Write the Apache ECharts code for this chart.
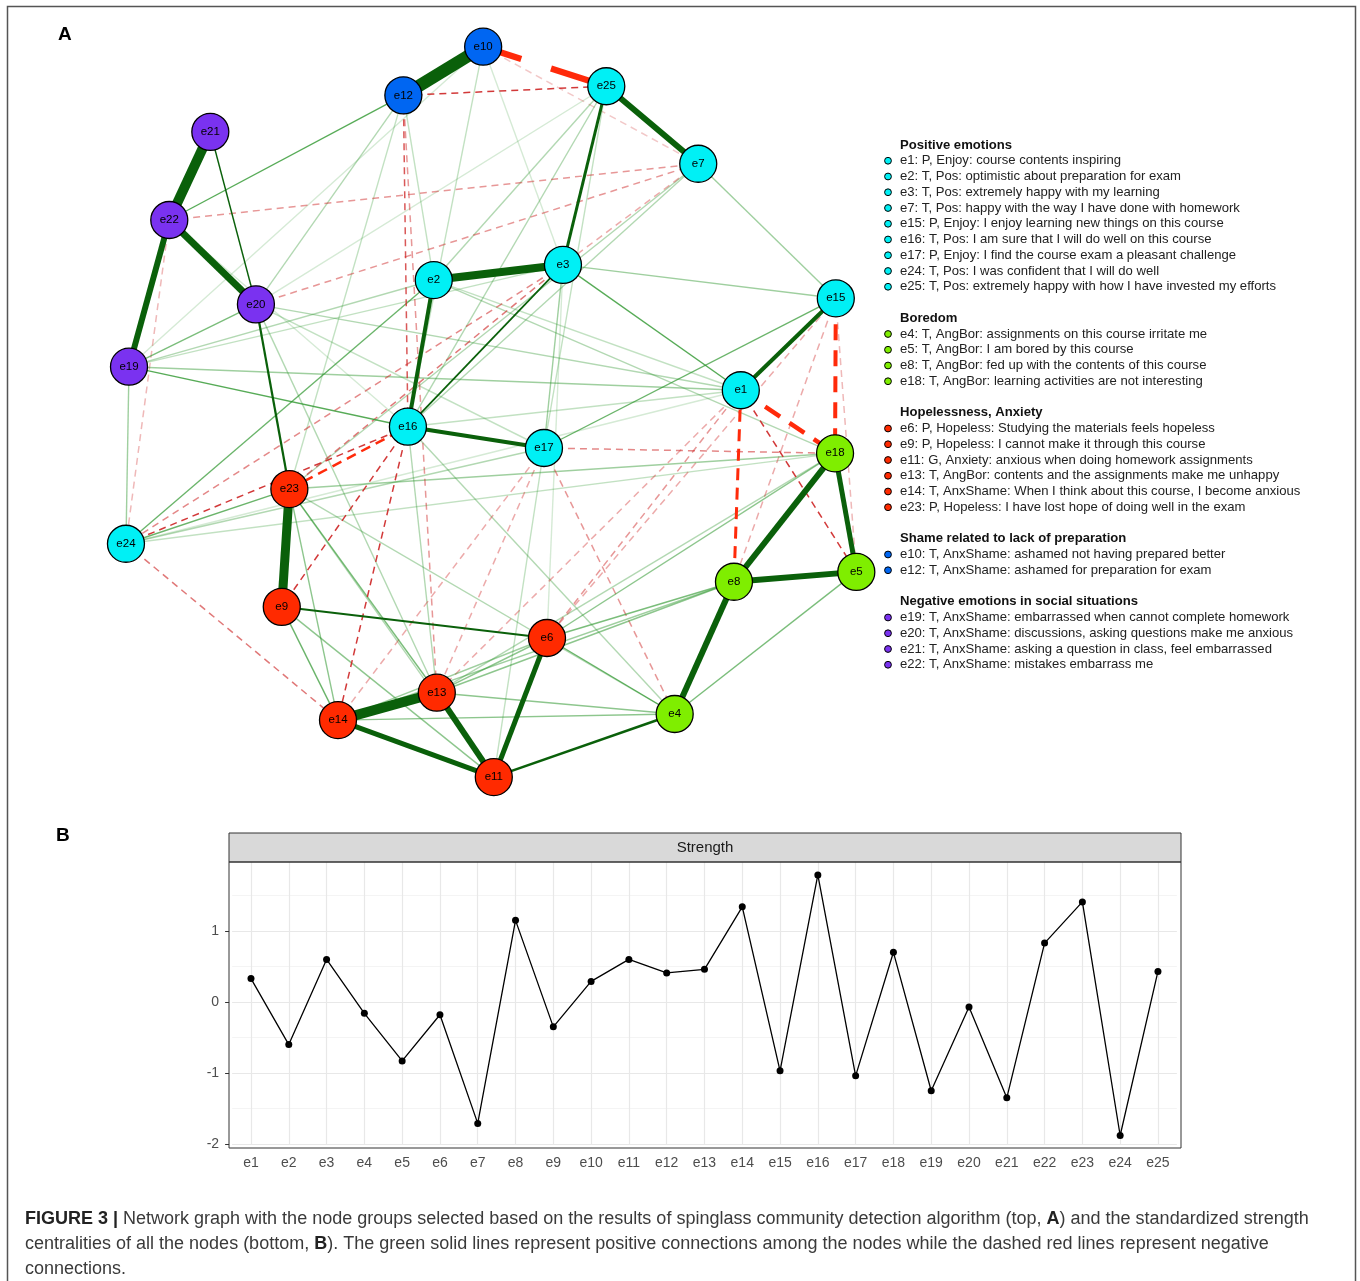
<!DOCTYPE html>
<html>
<head>
<meta charset="utf-8">
<script src="https://cdn.jsdelivr.net/npm/echarts@6/dist/echarts.min.js"></script>
<style>
html,body{margin:0;padding:0;background:#fff;}
#chart{width:1360px;height:1281px;}
</style>
</head>
<body>
<div id="chart"></div>
<script>
// ---------- Panel A: network ----------
const nodeNames = ['e1','e2','e3','e4','e5','e6','e7','e8','e9','e10','e11','e12','e13','e14','e15','e16','e17','e18','e19','e20','e21','e22','e23','e24','e25'];
// layout coordinates (0-100 space)
const nodeX = [83.0,42.6,59.6,74.3,98.2,57.5,77.4,82.1,22.6,49.1,50.5,38.6,43.0,30.0,95.5,39.2,57.1,95.4,2.5,19.2,13.2,7.8,23.6,2.1,65.3];
const nodeY = [52.6,67.1,69.1,10.0,28.7,20.0,82.4,27.4,24.1,97.8,1.7,91.4,12.8,9.2,64.7,47.8,45.0,44.3,55.7,63.9,86.6,75.0,39.6,32.4,92.6];
const nodeGroup = ['pos','pos','pos','bor','bor','hop','pos','bor','hop','sha','hop','sha','hop','hop','pos','pos','pos','bor','soc','soc','soc','soc','hop','pos','pos'];

const groupKeys = ['pos','bor','hop','sha','soc'];
const groupTitles = ['Positive emotions','Boredom','Hopelessness, Anxiety','Shame related to lack of preparation','Negative emotions in social situations'];
const groupColors = ['#00F0F5','#7FEE00','#FF2A00','#0066F2','#7A32F0'];
const legendItems = [
  ['e1: P, Enjoy: course contents inspiring','e2: T, Pos: optimistic about preparation for exam','e3: T, Pos: extremely happy with my learning','e7: T, Pos: happy with the way I have done with homework','e15: P, Enjoy: I enjoy learning new things on this course','e16: T, Pos: I am sure that I will do well on this course','e17: P, Enjoy: I find the course exam a pleasant challenge','e24: T, Pos: I was confident that I will do well','e25: T, Pos: extremely happy with how I have invested my efforts'],
  ['e4: T, AngBor: assignments on this course irritate me','e5: T, AngBor: I am bored by this course','e8: T, AngBor: fed up with the contents of this course','e18: T, AngBor: learning activities are not interesting'],
  ['e6: P, Hopeless: Studying the materials feels hopeless','e9: P, Hopeless: I cannot make it through this course','e11: G, Anxiety: anxious when doing homework assignments','e13: T, AngBor: contents and the assignments make me unhappy','e14: T, AnxShame: When I think about this course, I become anxious','e23: P, Hopeless: I have lost hope of doing well in the exam'],
  ['e10: T, AnxShame: ashamed not having prepared better','e12: T, AnxShame: ashamed for preparation for exam'],
  ['e19: T, AnxShame: embarrassed when cannot complete homework','e20: T, AnxShame: discussions, asking questions make me anxious','e21: T, AnxShame: asking a question in class, feel embarrassed','e22: T, AnxShame: mistakes embarrass me']
];

// edges: [from, to, weight] (negative = dashed red)
const edges = [
  ['e10','e12',0.50],['e21','e22',0.40],['e23','e9',0.36],['e14','e13',0.40],['e2','e3',0.32],
  ['e22','e20',0.28],['e22','e19',0.24],['e25','e7',0.24],['e18','e8',0.24],['e8','e5',0.24],
  ['e8','e4',0.24],['e13','e11',0.24],['e14','e11',0.20],['e6','e11',0.20],['e18','e5',0.20],
  ['e15','e1',0.16],['e16','e17',0.16],['e2','e16',0.16],['e25','e3',0.12],['e4','e11',0.10],
  ['e20','e23',0.09],['e9','e6',0.08],['e16','e3',0.07],['e21','e20',0.06],
  ['e12','e22',0.055],['e3','e1',0.055],['e19','e16',0.055],['e17','e15',0.05],['e24','e2',0.05],
  ['e24','e23',0.05],['e9','e14',0.05],['e6','e4',0.05],['e5','e4',0.045],['e6','e8',0.045],
  ['e13','e8',0.04],['e14','e4',0.04],['e23','e13',0.045],['e20','e19',0.045],['e9','e11',0.04],
  ['e23','e14',0.04],
  ['e19','e24',0.035],['e19','e2',0.03],['e19','e3',0.025],['e19','e1',0.035],['e12','e20',0.03],
  ['e12','e23',0.025],['e10','e16',0.025],['e10','e19',0.02],['e25','e2',0.03],['e25','e16',0.03],
  ['e25','e17',0.025],['e25','e20',0.02],['e7','e15',0.035],['e7','e16',0.03],['e7','e23',0.03],
  ['e3','e15',0.035],['e3','e17',0.035],['e3','e6',0.02],['e2','e18',0.03],['e2','e1',0.025],
  ['e16','e1',0.025],['e16','e4',0.03],['e16','e13',0.03],['e23','e18',0.035],['e23','e4',0.03],
  ['e23','e11',0.03],['e20','e1',0.03],['e20','e13',0.03],['e20','e17',0.025],['e6','e14',0.035],
  ['e6','e13',0.04],['e6','e18',0.04],['e13','e4',0.04],['e14','e8',0.035],['e13','e18',0.03],
  ['e17','e11',0.025],['e24','e17',0.03],['e24','e18',0.025],['e24','e1',0.02],['e22','e16',0.02],
  ['e12','e2',0.025],['e10','e3',0.02],
  ['e10','e25',-0.25],['e1','e18',-0.18],['e15','e18',-0.16],['e1','e8',-0.12],['e23','e16',-0.10],
  ['e12','e25',-0.07],['e1','e5',-0.065],['e16','e9',-0.065],['e16','e14',-0.065],['e24','e16',-0.065],
  ['e12','e16',-0.055],['e3','e23',-0.045],['e3','e24',-0.04],['e24','e14',-0.045],['e12','e13',-0.035],
  ['e22','e7',-0.035],['e20','e7',-0.035],['e17','e18',-0.04],['e17','e4',-0.035],['e1','e6',-0.035],
  ['e1','e13',-0.03],['e15','e6',-0.03],['e15','e8',-0.03],['e15','e5',-0.025],['e17','e13',-0.03],
  ['e17','e14',-0.03],['e22','e24',-0.025],['e10','e7',-0.02],['e7','e3',-0.03]
];

// ---------- Panel B: strength centrality ----------
const strengthCats = nodeNames;
const strengthVals = [0.33,-0.60,0.60,-0.16,-0.83,-0.18,-1.71,1.15,-0.35,0.29,0.60,0.41,0.46,1.34,-0.97,1.79,-1.04,0.70,-1.25,-0.07,-1.35,0.83,1.41,-1.88,0.43];
const yTicks = [-2,-1,0,1];

// ---------- build ----------
const FONT = '"Liberation Sans", Arial, Helvetica, sans-serif';
function colorOf(g){ return groupColors[groupKeys.indexOf(g)]; }

const graphNodes = nodeNames.map((n,i)=>({
  name:n, value:[nodeX[i],nodeY[i]],
  itemStyle:{color:colorOf(nodeGroup[i]), borderColor:'#000', borderWidth:1.3}
}));

function clamp(v,a,b){return Math.max(a,Math.min(b,v));}
const graphLinks = edges.slice().sort((a,b)=>Math.abs(a[2])-Math.abs(b[2])).map(e=>{
  const w=e[2], a=Math.abs(w);
  let color, width, type='solid';
  if (w>0){
    if (a>=0.06){ color='#0A600A'; width=Math.max(1.4,a*25); }
    else { const al=clamp(0.2+(a-0.02)/0.035*0.6,0.15,0.85); color='rgba(45,150,45,'+al.toFixed(2)+')'; width=1.4; }
  } else {
    if (a>=0.09){ color='#FF2A0A'; width=a*25; }
    else { const al=clamp(0.25+(a-0.02)/0.045*0.65,0.2,0.9); color='rgba(205,35,35,'+al.toFixed(2)+')'; width=1.5; }
    type = width>5 ? [width*6.4, width*5] : [Math.max(7,width*4), Math.max(5,width*2.5)];
  }
  return {source:e[0], target:e[1], lineStyle:{color:color, width:width, type:type, opacity:1, curveness:0}};
});

// legend graphics
const legendGraphics = [];
const LX = 900, step = 15.75;
let ly = 145;
groupTitles.forEach((t,gi)=>{
  legendGraphics.push({type:'text', x:LX, y:ly, style:{text:t, font:'bold 13.1px '+FONT, fill:'#111', textVerticalAlign:'middle'}});
  legendItems[gi].forEach(it=>{
    ly += step;
    legendGraphics.push({type:'circle', shape:{cx:888, cy:ly, r:3.4}, style:{fill:groupColors[gi], stroke:'#000', lineWidth:1}});
    legendGraphics.push({type:'text', x:LX, y:ly, style:{text:it, font:'13.1px '+FONT, fill:'#222', textVerticalAlign:'middle'}});
  });
  ly += step*2;
});

const capRich = {
  n:{fontSize:18, fontFamily:FONT, fill:'#3a3a3a', color:'#3a3a3a'},
  b:{fontSize:18, fontFamily:FONT, fontWeight:'bold', fill:'#222', color:'#222'}
};
const captionLines = [
  '{b|FIGURE 3 |}{n| Network graph with the node groups selected based on the results of spinglass community detection algorithm (top, }{b|A}{n|) and the standardized strength}',
  '{n|centralities of all the nodes (bottom, }{b|B}{n|). The green solid lines represent positive connections among the nodes while the dashed red lines represent negative}',
  '{n|connections.}'
];

const chart = echarts.init(document.getElementById('chart'), null, {renderer:'canvas'});
const option = {
  animation:false,
  backgroundColor:'#fff',
  grid:[
    {left:110, top:30, width:760, height:760},
    {left:232.1, top:860, width:944.75, height:284}
  ],
  xAxis:[
    {gridIndex:0, type:'value', min:0, max:100, show:false},
    {gridIndex:1, type:'category', data:strengthCats, boundaryGap:true, offset:4,
     axisLine:{show:false},
     axisTick:{show:true, alignWithLabel:true, length:4, lineStyle:{color:'#333', width:1}},
     axisLabel:{color:'#4D4D4D', fontSize:14, fontFamily:FONT, margin:8, interval:0},
     splitLine:{show:false}}
  ],
  yAxis:[
    {gridIndex:0, type:'value', min:0, max:100, show:false},
    {gridIndex:1, type:'value', min:-2, max:2, interval:1, offset:3,
     axisLine:{show:false},
     axisTick:{show:true, length:4, lineStyle:{color:'#333', width:1}, customValues:yTicks},
     axisLabel:{color:'#4D4D4D', fontSize:14, fontFamily:FONT, margin:10, customValues:yTicks,
       formatter:v=> (v>1.5 ? '' : String(v))},
     splitLine:{show:true, lineStyle:{color:'#E8E8E8', width:1.2}},
     minorTick:{show:false, splitNumber:2},
     minorSplitLine:{show:true, lineStyle:{color:'#F1F1F1', width:0.8}}}
  ],
  graphic:{elements:[
    {type:'rect', shape:{x:7.5, y:6.5, width:1348, height:1300}, style:{fill:null, stroke:'#555', lineWidth:1.5}, z:100, silent:true},
    {type:'text', x:58, y:35, style:{text:'A', font:'bold 19px '+FONT, fill:'#000', textVerticalAlign:'middle'}},
    {type:'text', x:56, y:836, style:{text:'B', font:'bold 19px '+FONT, fill:'#000', textVerticalAlign:'middle'}},
    {type:'rect', shape:{x:229, y:833, width:952, height:29}, style:{fill:'#D9D9D9', stroke:'#333', lineWidth:1}, z:100},
    {type:'text', x:705, y:848, style:{text:'Strength', font:'15px '+FONT, fill:'#1A1A1A', textAlign:'center', textVerticalAlign:'middle'}, z:101},
    {type:'rect', shape:{x:229, y:862, width:952, height:286}, style:{fill:null, stroke:'#333', lineWidth:1}, z:100},
    ...legendGraphics,
    ...captionLines.map((t,i)=>({type:'text', x:25, y:1219+i*25, style:{text:t, rich:capRich, font:'18px '+FONT, textVerticalAlign:'middle'}}))
  ]},
  series:[
    {
      type:'graph', coordinateSystem:'cartesian2d', xAxisIndex:0, yAxisIndex:0,
      symbol:'circle', symbolSize:37, silent:true,
      emphasis:{disabled:true},
      label:{show:true, position:'inside', formatter:'{b}', color:'#000', fontSize:11.5, fontFamily:FONT},
      lineStyle:{opacity:1},
      data:graphNodes, links:graphLinks, z:2
    },
    {
      type:'line', xAxisIndex:1, yAxisIndex:1, data:[], z:1, silent:true,
      markLine:{silent:true, symbol:'none', label:{show:false}, animation:false,
        lineStyle:{color:'#E8E8E8', width:1.2, type:'solid'},
        data:strengthCats.map(c=>({xAxis:c}))}
    },
    {
      type:'line', xAxisIndex:1, yAxisIndex:1, data:strengthVals, z:5,
      symbol:'circle', symbolSize:7, showSymbol:true,
      itemStyle:{color:'#000'}, lineStyle:{color:'#000', width:1.3}
    }
  ]
};
chart.setOption(option);
</script>
</body>
</html>
